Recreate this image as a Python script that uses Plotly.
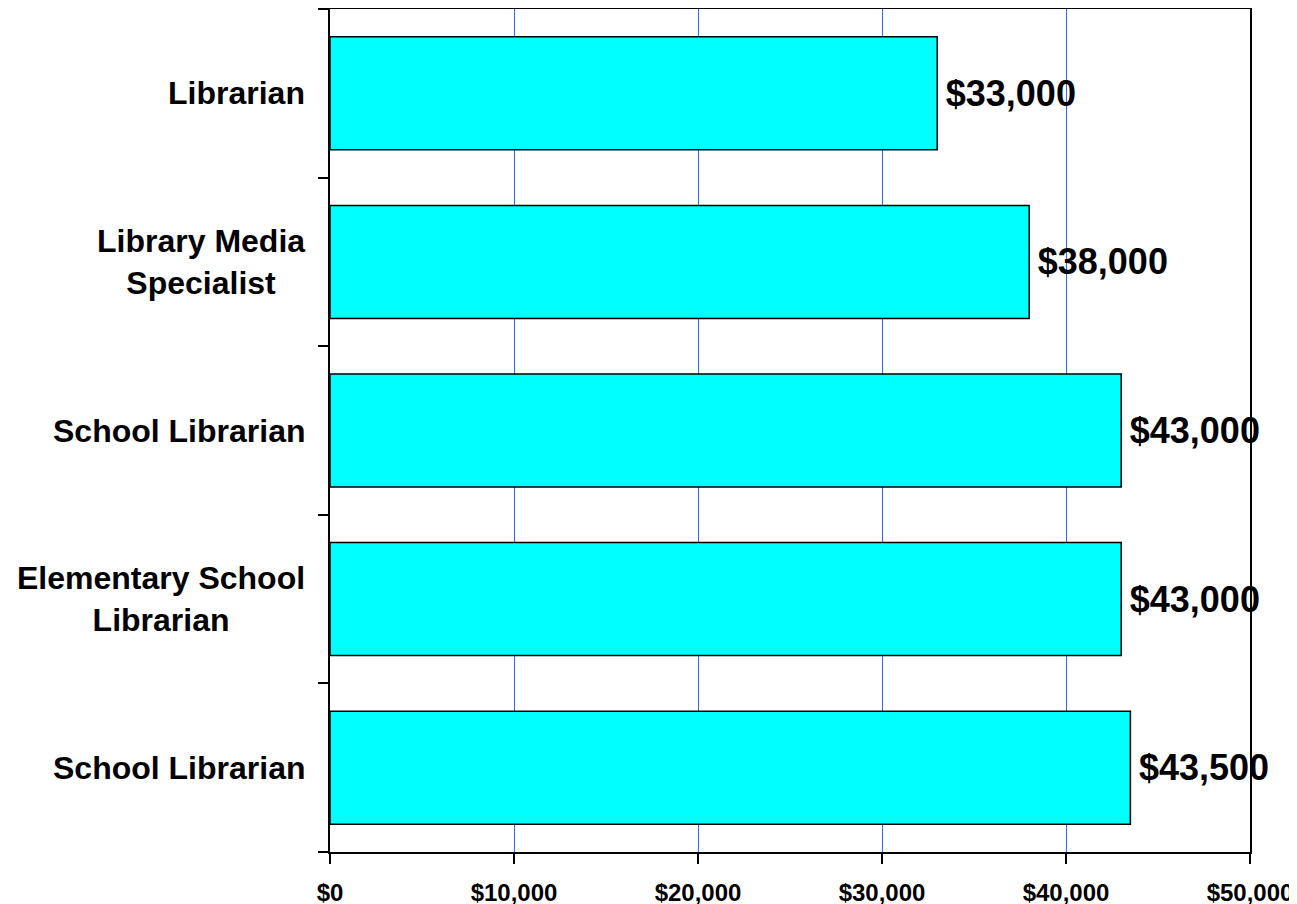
import plotly.graph_objects as go

categories = ["Librarian", "Library Media<br>Specialist", "School Librarian",
              "Elementary School<br>Librarian", "School Librarian"]
salaries = [33000, 38000, 43000, 43000, 43500]
x_ticks = [0, 10000, 20000, 30000, 40000, 50000]
x_tick_labels = ["$0", "$10,000", "$20,000", "$30,000", "$40,000", "$50,000"]

positions = list(range(len(categories)))
FONT = "Arial, Liberation Sans, sans-serif"

fig = go.Figure()
fig.add_trace(go.Bar(
    x=salaries, y=positions, orientation="h",
    marker=dict(color="#00FFFF", line=dict(color="black", width=1.5)),
    width=0.67,
    texttemplate="<span style='font-size:20px'> </span><b>$%{x:,.0f}</b>",
    textposition="outside",
    textfont=dict(family=FONT, size=36, color="black"),
    constraintext="none", cliponaxis=False, hoverinfo="skip",
))

for p, c in zip(positions, categories):
    fig.add_annotation(
        x=0, xref="paper", y=p, yref="y", text="<b>%s</b>" % c,
        xanchor="right", yanchor="middle", align="center", xshift=-23,
        showarrow=False, font=dict(family=FONT, size=32, color="black"),
    )

fig.update_layout(
    width=1297, height=904,
    margin=dict(l=322, r=55, t=1, b=60, autoexpand=False),
    paper_bgcolor="white", plot_bgcolor="white",
    showlegend=False,
    font=dict(family=FONT, color="black"),
)
fig.update_xaxes(
    range=[0, 50000], tickvals=x_ticks, ticktext=["<b>%s</b>" % t for t in x_tick_labels],
    tickfont=dict(family=FONT, size=24, color="black"),
    showgrid=True, gridcolor="#3366FF", gridwidth=1,
    showline=True, linecolor="black", linewidth=2, mirror=True,
    ticks="outside", ticklen=10, tickcolor="black", tickwidth=1.5,
    zeroline=False, ticklabelstandoff=8, automargin=False,
)
fig.update_yaxes(
    range=[len(categories) - 0.5, -0.5], tickvals=positions, showticklabels=False,
    ticks="", showgrid=False, zeroline=False, automargin=False,
    showline=True, linecolor="black", linewidth=2, mirror=True,
    minor=dict(tickvals=[p - 0.5 for p in positions] + [len(categories) - 0.5],
               ticks="outside", ticklen=10, tickcolor="black", tickwidth=1.5,
               showgrid=False),
)

fig.write_html("out.html")
